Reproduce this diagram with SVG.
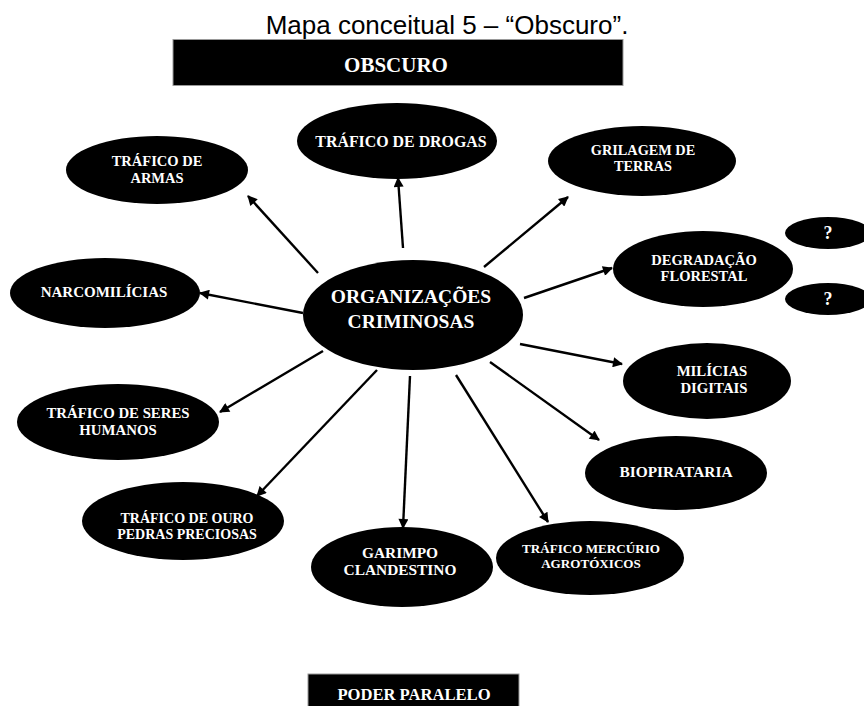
<svg xmlns="http://www.w3.org/2000/svg" width="864" height="706" viewBox="0 0 864 706">
<defs>
<style>
.node{fill:#000}
.lbl{fill:#fff;font-family:"Liberation Serif","Times New Roman",serif;font-weight:bold;text-anchor:middle}
.conn line{stroke:#000;stroke-width:2.4;marker-end:url(#ah)}
.bar{fill:#000;stroke:#999;stroke-width:1}
</style>
<marker id="ah" viewBox="0 0 10 10" refX="9" refY="5" markerWidth="11" markerHeight="10" markerUnits="userSpaceOnUse" orient="auto">
<path d="M0,0 L10,5 L0,10 Z" fill="#000"/>
</marker>
</defs>
<rect width="864" height="706" fill="#fff"/>
<text x="447" y="34" font-family="Liberation Sans,Arial,sans-serif" font-size="26" text-anchor="middle" fill="#000">Mapa conceitual 5 – “Obscuro”.</text>
<g id="obscuro">
<rect class="bar" x="173" y="39.5" width="450" height="46"/>
<text class="lbl" x="396" y="72" font-size="21">OBSCURO</text>
</g>
<g class="conn" id="connectors">
<line x1="318" y1="273" x2="248" y2="196"/>
<line x1="303" y1="313" x2="200" y2="293"/>
<line x1="403" y1="248" x2="398" y2="178"/>
<line x1="484" y1="267" x2="568" y2="197"/>
<line x1="524" y1="298" x2="612" y2="268"/>
<line x1="520" y1="344" x2="622" y2="364"/>
<line x1="490" y1="362" x2="599" y2="440"/>
<line x1="456" y1="375" x2="548" y2="522"/>
<line x1="410" y1="376" x2="403" y2="528"/>
<line x1="377" y1="370" x2="257" y2="496"/>
<line x1="323" y1="351" x2="220" y2="412"/>
</g>
<g id="org">
<ellipse class="node" cx="413" cy="315" rx="110" ry="55"/>
<text class="lbl" x="411" y="303" font-size="19.5">ORGANIZAÇÕES</text>
<text class="lbl" x="411" y="328" font-size="19.5">CRIMINOSAS</text>
</g>
<g id="armas">
<ellipse class="node" cx="157" cy="170" rx="91" ry="34"/>
<text class="lbl" x="157" y="166" font-size="14.5">TRÁFICO DE</text>
<text class="lbl" x="157" y="183" font-size="14.5">ARMAS</text>
</g>
<g id="narco">
<ellipse class="node" cx="105" cy="293" rx="95" ry="35"/>
<text class="lbl" x="104" y="297" font-size="15">NARCOMILÍCIAS</text>
</g>
<g id="drogas">
<ellipse class="node" cx="397" cy="141" rx="100" ry="38"/>
<text class="lbl" x="401" y="147" font-size="15.9">TRÁFICO DE DROGAS</text>
</g>
<g id="grilagem">
<ellipse class="node" cx="642" cy="161" rx="94" ry="35"/>
<text class="lbl" x="643" y="155" font-size="14.3">GRILAGEM DE</text>
<text class="lbl" x="643" y="171" font-size="14.3">TERRAS</text>
</g>
<g id="degradacao">
<ellipse class="node" cx="703" cy="269" rx="90" ry="38"/>
<text class="lbl" x="704" y="265" font-size="14.5">DEGRADAÇÃO</text>
<text class="lbl" x="704" y="281" font-size="14.5">FLORESTAL</text>
</g>
<g id="q1">
<ellipse class="node" cx="828" cy="233" rx="43" ry="16"/>
<text class="lbl" x="828" y="239" font-size="18">?</text>
</g>
<g id="q2">
<ellipse class="node" cx="828" cy="299" rx="43" ry="16"/>
<text class="lbl" x="828" y="305" font-size="18">?</text>
</g>
<g id="milicias">
<ellipse class="node" cx="707" cy="381" rx="84" ry="38"/>
<text class="lbl" x="712" y="376" font-size="14.8">MILÍCIAS</text>
<text class="lbl" x="714" y="393" font-size="14.8">DIGITAIS</text>
</g>
<g id="biopirataria">
<ellipse class="node" cx="676" cy="473" rx="91" ry="37"/>
<text class="lbl" x="676" y="477" font-size="15.4">BIOPIRATARIA</text>
</g>
<g id="seres">
<ellipse class="node" cx="118" cy="422" rx="101" ry="38"/>
<text class="lbl" x="118" y="418" font-size="14.8">TRÁFICO DE SERES</text>
<text class="lbl" x="118" y="435" font-size="14.8">HUMANOS</text>
</g>
<g id="ouro">
<ellipse class="node" cx="183" cy="521" rx="101" ry="39"/>
<text class="lbl" x="187" y="523" font-size="14">TRÁFICO DE OURO</text>
<text class="lbl" x="187" y="539" font-size="14">PEDRAS PRECIOSAS</text>
</g>
<g id="garimpo">
<ellipse class="node" cx="402" cy="567" rx="91" ry="40"/>
<text class="lbl" x="400" y="558" font-size="15.4">GARIMPO</text>
<text class="lbl" x="400" y="575" font-size="15.4">CLANDESTINO</text>
</g>
<g id="mercurio">
<ellipse class="node" cx="590" cy="558" rx="94" ry="37"/>
<text class="lbl" x="591" y="553" font-size="13.1">TRÁFICO MERCÚRIO</text>
<text class="lbl" x="591" y="568" font-size="13.1">AGROTÓXICOS</text>
</g>
<g id="poder">
<rect class="bar" x="308" y="674" width="211" height="34"/>
<text class="lbl" x="414" y="700" font-size="16.6">PODER PARALELO</text>
</g>
</svg>
